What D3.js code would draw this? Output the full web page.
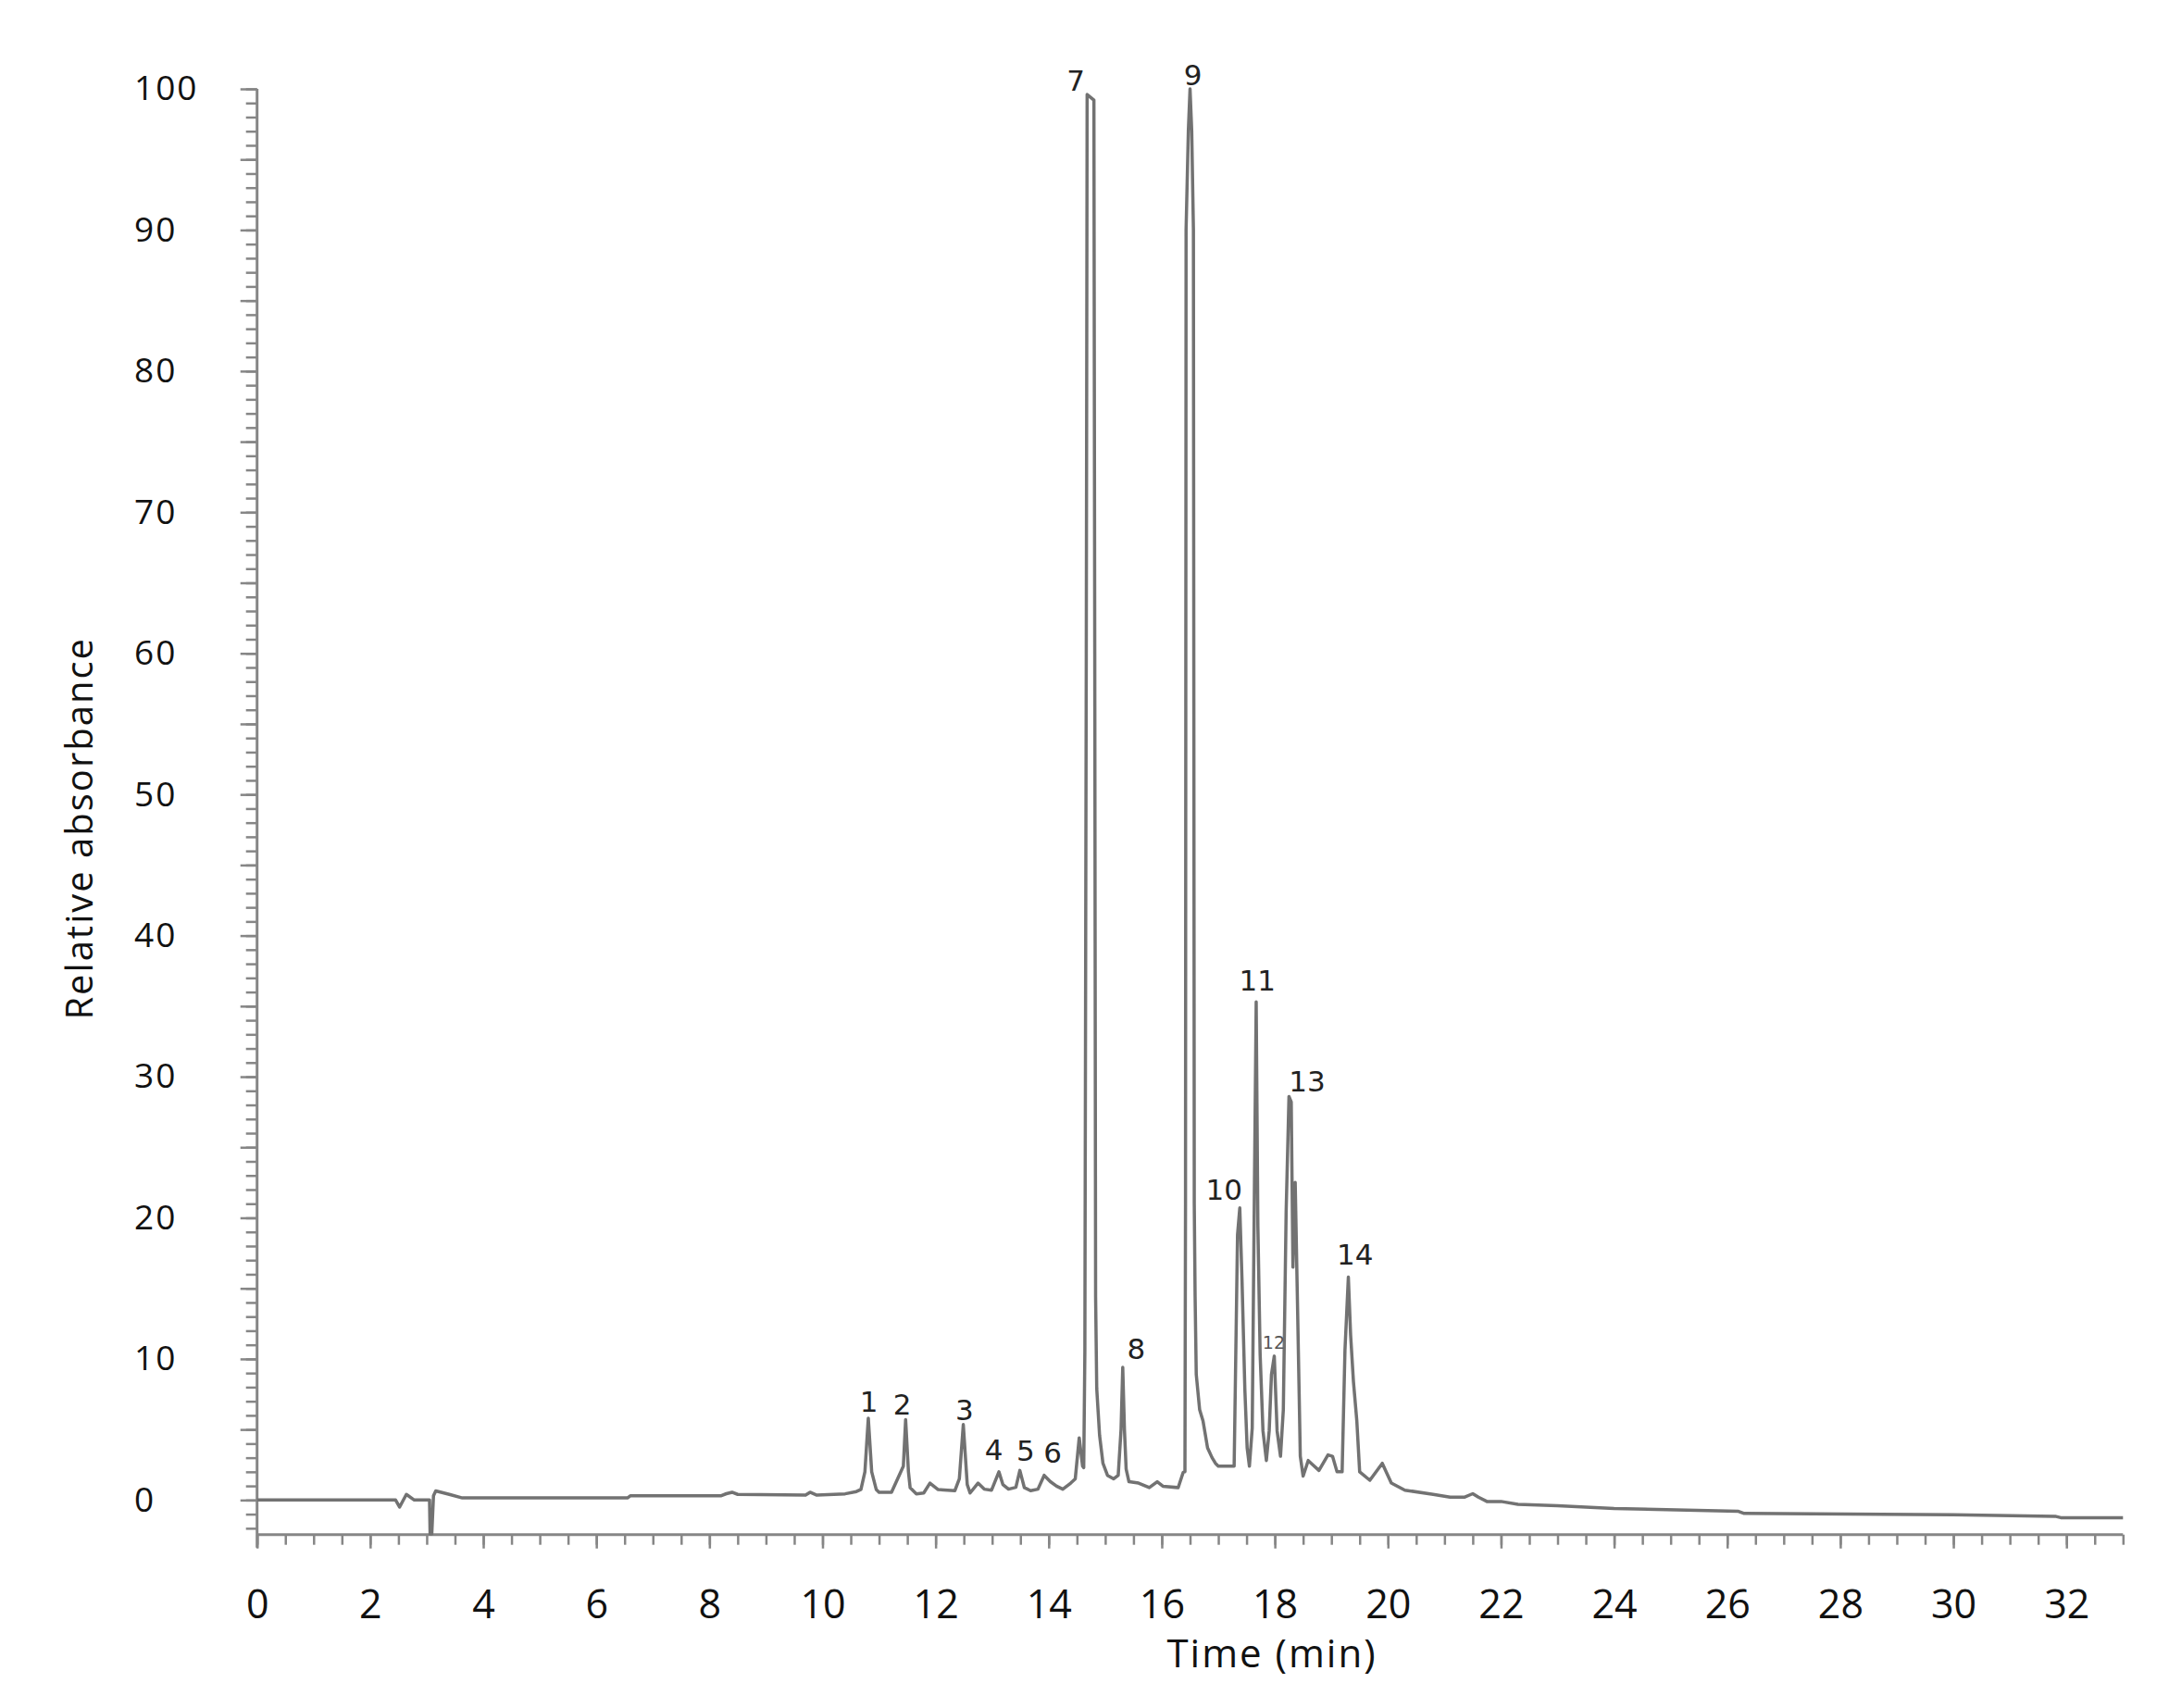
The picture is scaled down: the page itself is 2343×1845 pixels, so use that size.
<!DOCTYPE html>
<html>
<head>
<meta charset="utf-8">
<script src="https://cdn.jsdelivr.net/npm/d3@7"></script>
<style>
  html, body { margin: 0; padding: 0; background: #fff; }
</style>
</head>
<body>
<script>
// chromatogram trace (time in min, relative absorbance)
const timeMin = [
  0, 2.45, 2.52, 2.64, 2.78, 3.05, 3.06, 3.09, 3.12, 3.16, 3.4, 3.63,
  6.55, 6.6, 8.2, 8.3, 8.4, 8.5, 9.7, 9.78, 9.9, 10.4, 10.6, 10.68,
  10.75, 10.81, 10.87, 10.95, 11.0, 11.22, 11.33, 11.43, 11.47, 11.52, 11.55, 11.66,
  11.79, 11.9, 12.04, 12.34, 12.42, 12.49, 12.56, 12.61, 12.75, 12.86, 12.99, 13.12,
  13.19, 13.29, 13.42, 13.49, 13.57, 13.68, 13.81, 13.92, 14.03, 14.14, 14.25, 14.39,
  14.47, 14.54, 14.6, 14.62, 14.64, 14.665, 14.68, 14.8, 14.815, 14.83, 14.85, 14.9,
  14.96, 15.04, 15.15, 15.23, 15.28, 15.31, 15.34, 15.37, 15.42, 15.59, 15.78, 15.92,
  16.02, 16.29, 16.38, 16.41, 16.42, 16.43, 16.47, 16.5, 16.53, 16.56, 16.575, 16.59,
  16.61, 16.67, 16.73, 16.81, 16.89, 16.95, 17.0, 17.28, 17.3, 17.34, 17.38, 17.42,
  17.47, 17.51, 17.55, 17.6, 17.64, 17.67, 17.7, 17.74, 17.79, 17.85, 17.9, 17.94,
  17.99, 18.04, 18.1, 18.15, 18.2, 18.25, 18.29, 18.32, 18.36, 18.4, 18.43, 18.45,
  18.5, 18.59, 18.67, 18.78, 18.94, 19.02, 19.1, 19.19, 19.24, 19.3, 19.34, 19.39,
  19.45, 19.5, 19.68, 19.9, 20.06, 20.3, 20.8, 21.1, 21.35, 21.5, 21.6, 21.75,
  22.0, 22.3, 23.0, 24.0, 26.2, 26.3, 30.0, 31.8, 31.9, 33.0
];
const absorbance = [
  0, 0, -0.5, 0.4, 0, 0, -2.4, -2.4, 0.3, 0.65, 0.4, 0.15,
  0.15, 0.3, 0.3, 0.45, 0.55, 0.4, 0.35, 0.55, 0.35, 0.44, 0.6, 0.75,
  2.0, 5.8, 2.0, 0.75, 0.55, 0.55, 1.52, 2.4, 5.7, 2.0, 0.87, 0.44,
  0.5, 1.2, 0.75, 0.66, 1.5, 5.35, 1.1, 0.5, 1.2, 0.77, 0.7, 2.0,
  1.1, 0.77, 0.9, 2.1, 0.88, 0.66, 0.77, 1.75, 1.3, 0.98, 0.77, 1.2,
  1.5, 4.4, 2.4, 2.3, 10.5, 60, 99.6, 99.2, 60, 14.4, 7.9, 4.6,
  2.6, 1.75, 1.5, 1.75, 5.0, 9.4, 5.0, 2.2, 1.3, 1.2, 0.88, 1.3,
  0.98, 0.88, 1.97, 2.0, 21, 90, 97, 100, 97, 90, 21, 14.4,
  8.9, 6.4, 5.6, 3.7, 3.0, 2.6, 2.4, 2.4, 7.8, 18.8, 20.7, 15.5,
  7.8, 3.7, 2.4, 5.1, 22.7, 35.3, 19.4, 10.3, 4.9, 2.8, 4.9, 8.9,
  10.2, 4.9, 3.1, 6.4, 20.5, 28.6, 28.2, 16.5, 22.5, 14, 7.5, 3.1,
  1.7, 2.8, 2.5, 2.1, 3.2, 3.1, 2.0, 2.0, 10.6, 15.8, 11.7, 8.4,
  5.6, 2.0, 1.4, 2.6, 1.2, 0.7, 0.4, 0.2, 0.2, 0.45, 0.2, -0.1,
  -0.1, -0.3, -0.4, -0.6, -0.8, -0.95, -1.05, -1.15, -1.25, -1.25
];

// peak numbers and where their labels sit (data units)
const peakLabels = ["1", "2", "3", "4", "5", "6", "7", "8", "9", "10", "11", "12", "13", "14"];
const peakLabelTime = [10.82, 11.41, 12.51, 13.03, 13.59, 14.07, 14.48, 15.55, 16.55, 17.1, 17.69, 17.98, 18.57, 19.42];
const peakLabelAbs = [7.0, 6.8, 6.4, 3.6, 3.5, 3.4, 100.6, 10.7, 101.0, 22.0, 36.85, 11.15, 29.7, 17.4];

const xTickValues = [0, 2, 4, 6, 8, 10, 12, 14, 16, 18, 20, 22, 24, 26, 28, 30, 32];
const yTickValues = [0, 10, 20, 30, 40, 50, 60, 70, 80, 90, 100];

const W = 2343, H = 1845;
const axisColor = "#868686";

const svg = d3.select("body").append("svg")
    .attr("width", W)
    .attr("height", H);

const x = d3.scaleLinear().domain([0, 33]).range([277.7, 2293.3]);
const y = d3.scaleLinear().domain([-2.45, 100]).range([1657.7, 96]);

function styleAxis(g) {
    g.select(".domain").remove();
    g.selectAll(".tick line").attr("stroke", axisColor).attr("stroke-width", 2.5);
}

// y axis : small ticks every unit, longer every 5, labels every 10
svg.append("g")
    .attr("transform", "translate(" + x(0) + ",0)")
    .call(d3.axisLeft(y).tickValues(d3.range(-2, 101, 1)).tickSize(12).tickFormat(""))
    .call(styleAxis);
svg.append("g")
    .attr("transform", "translate(" + x(0) + ",0)")
    .call(d3.axisLeft(y).tickValues(d3.range(0, 101, 5)).tickSize(18).tickFormat(""))
    .call(styleAxis);
let yLab = svg.append("g")
    .attr("transform", "translate(" + x(0) + ",0)")
    .call(d3.axisLeft(y).tickValues(yTickValues).tickSize(0).tickFormat(d3.format("d")));
yLab.select(".domain").remove();
yLab.selectAll("text")
    .attr("x", 145 - x(0))
    .attr("text-anchor", "start")
    .style("font-family", "'Open Sans', sans-serif")
    .style("font-size", "37px")
    .style("letter-spacing", "2px")
    .attr("fill", "#111");

// x axis : ticks every half minute, longer every 2 min
svg.append("g")
    .attr("transform", "translate(0," + y(-2.45) + ")")
    .call(d3.axisBottom(x).tickValues(d3.range(0, 33.01, 0.5)).tickSize(11).tickFormat(""))
    .call(styleAxis);
svg.append("g")
    .attr("transform", "translate(0," + y(-2.45) + ")")
    .call(d3.axisBottom(x).tickValues(xTickValues).tickSize(15).tickFormat(""))
    .call(styleAxis);
let xLab = svg.append("g")
    .attr("transform", "translate(0," + y(-2.45) + ")")
    .call(d3.axisBottom(x).tickValues(xTickValues).tickSize(0).tickPadding(60).tickFormat(d3.format("d")));
xLab.select(".domain").remove();
xLab.selectAll("text")
    .style("font-family", "'Open Sans', sans-serif")
    .style("font-size", "43px")
    .attr("fill", "#111");

// axis lines
svg.append("line")
    .attr("x1", x(0)).attr("x2", x(0))
    .attr("y1", y(100)).attr("y2", y(-2.45) + 14)
    .attr("stroke", axisColor).attr("stroke-width", 3);
svg.append("line")
    .attr("x1", x(0)).attr("x2", x(33))
    .attr("y1", y(-2.45)).attr("y2", y(-2.45))
    .attr("stroke", axisColor).attr("stroke-width", 3);

// the trace
const pts = timeMin.map((t, i) => [t, absorbance[i]]);
const line = d3.line()
    .x(d => x(d[0]))
    .y(d => y(d[1]));
svg.append("path")
    .datum(pts)
    .attr("d", line)
    .attr("fill", "none")
    .attr("stroke", "#727272")
    .attr("stroke-width", 3.5)
    .attr("stroke-linejoin", "round");

// peak numbers
svg.selectAll(".peak")
    .data(peakLabels)
    .enter().append("text")
    .attr("class", "peak")
    .attr("x", (d, i) => x(peakLabelTime[i]))
    .attr("y", (d, i) => y(peakLabelAbs[i]))
    .attr("dy", "0.36em")
    .attr("text-anchor", "middle")
    .style("font-family", "'DejaVu Sans', sans-serif")
    .style("font-size", d => d === "12" ? "19px" : "31px")
    .attr("fill", d => d === "12" ? "#555" : "#222")
    .text(d => d);

// axis titles
svg.append("text")
    .attr("x", x(17.95))
    .attr("y", 1801)
    .attr("text-anchor", "middle")
    .style("font-family", "'Open Sans', sans-serif")
    .style("font-size", "42px")
    .style("letter-spacing", "2px")
    .attr("fill", "#111")
    .text("Time (min)");

svg.append("text")
    .attr("transform", "translate(100," + y(47.6) + ") rotate(-90)")
    .attr("text-anchor", "middle")
    .style("font-family", "'Open Sans', sans-serif")
    .style("font-size", "40px")
    .style("letter-spacing", "2px")
    .attr("fill", "#111")
    .text("Relative absorbance");
</script>
</body>
</html>
